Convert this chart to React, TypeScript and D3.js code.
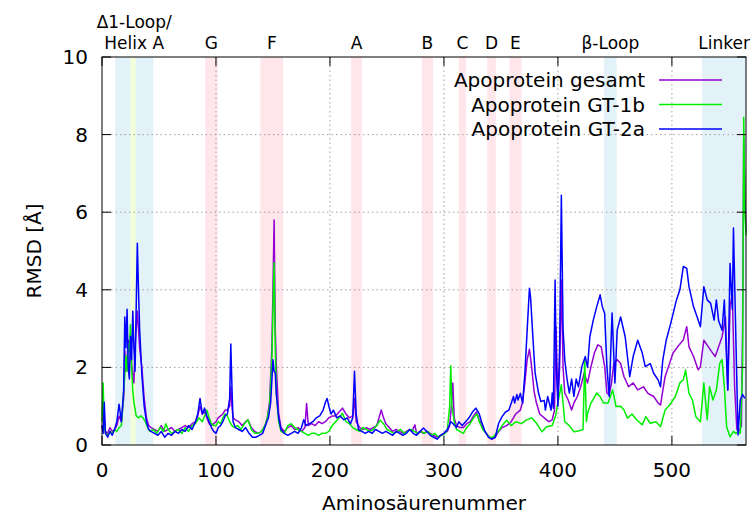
import * as d3 from 'd3'

// residue number, RMSD [Å]
const gesamt: [number, number][] = [
  [0,0.5],[1,0.4],[2,0.7],[3,0.35],[5,0.3],[7,0.45],[9,0.35],[11,0.4],[13,0.5],[15,0.75],[17,0.6],[19,1.2],[20,2.45],[21,1.9],[22,2.2],[23,2.7],[24,2.4],[25,2.6],[26,2.1],[27,1.8],[28,1.6],[29,2.5],[30,3.0],[31,3.45],[32,3.0],[33,2.5],[35,2.0],[37,1.2],[39,0.7],[41,0.5],[43,0.45],[46,0.4],[49,0.35],[52,0.5],[55,0.35],[58,0.4],[61,0.45],[64,0.35],[67,0.4],[70,0.45],[73,0.5],[76,0.45],[79,0.55],[82,0.6],[84,0.75],[86,1.0],[88,0.8],[90,0.85],[92,0.7],[94,0.55],[96,0.5],[98,0.55],[100,0.6],[102,0.7],[104,0.75],[106,0.8],[108,0.9],[110,0.9],[112,1.0],[113,1.5],[114,1.0],[115,0.7],[117,0.65],[120,0.6],[123,0.5],[126,0.6],[128,0.65],[131,0.45],[134,0.35],[137,0.3],[140,0.35],[143,0.5],[145,0.7],[147,1.1],[149,2.5],[150,4.0],[151,5.8],[152,3.0],[153,2.0],[155,0.8],[157,0.45],[160,0.35],[163,0.45],[166,0.5],[169,0.4],[172,0.45],[175,0.35],[178,0.45],[179.5,1.07],[181,0.5],[184,0.55],[187,0.5],[190,0.6],[193,0.55],[196,0.6],[199,0.7],[202,0.75],[205,0.75],[208,0.85],[211,0.95],[214,0.8],[217,0.7],[220,0.75],[221.5,1.2],[223,0.6],[226,0.45],[229,0.4],[232,0.45],[235,0.4],[238,0.45],[241,0.5],[243,0.7],[245,0.9],[247,0.7],[249,0.55],[252,0.45],[255,0.35],[258,0.4],[261,0.35],[264,0.3],[267,0.35],[270,0.4],[272,0.35],[274.5,0.52],[276,0.3],[279,0.35],[282,0.3],[285,0.35],[288,0.3],[291,0.25],[294,0.2],[297,0.25],[300,0.3],[303,0.35],[305,0.5],[306.5,1.0],[307.8,1.6],[309,0.7],[311,0.5],[314,0.45],[317,0.45],[320,0.55],[323,0.6],[326,0.75],[328.5,0.85],[331,0.65],[334,0.45],[337,0.3],[340,0.2],[342,0.15],[345,0.2],[348,0.35],[351,0.45],[355,0.5],[359,0.6],[363,0.8],[367,0.9],[369,1.1],[371,1.6],[373,2.2],[375,2.47],[377,2.0],[379,1.4],[381,1.1],[384,0.8],[388,0.7],[392,0.6],[395,0.65],[397,0.9],[398.3,3.05],[400,1.2],[401.5,2.0],[403,4.25],[404.5,2.0],[406,1.34],[409,1.16],[412,0.9],[414,1.08],[417,1.25],[420,1.5],[423,1.85],[426,1.6],[429,2.02],[432,2.37],[435,2.58],[438,2.53],[441,2.02],[443,1.34],[445,1.3],[447,1.6],[449,2.1],[452,2.2],[455,2.1],[458,1.76],[462,1.5],[466,1.6],[470,1.42],[475,1.5],[479,1.33],[484,1.25],[488,1.08],[490,1.03],[492,1.4],[494,1.76],[497,2.02],[501,2.37],[505,2.53],[510,2.71],[513,3.05],[515,2.53],[519,2.28],[523,1.94],[525,2.02],[528,2.7],[532,2.53],[535,2.4],[538,2.28],[541,2.53],[544,2.79],[547,3.3],[549,1.42],[551,3.56],[553,3.9],[555,1.5],[557,0.4],[559,0.35],[561,0.5],[562,3.0],[563,7.9],[564,6.5],[565,5.5],
]

const gt1b: [number, number][] = [
  [0,0.6],[1,1.6],[2,0.5],[3,0.3],[5,0.25],[7,0.35],[9,0.3],[11,0.4],[13,0.35],[15,0.45],[17,0.5],[18,0.9],[19,1.4],[20,1.8],[21,2.3],[22,1.9],[23,2.6],[24,2.4],[25,3.1],[26,2.0],[27,1.4],[28,1.1],[30,0.75],[32,0.7],[34,0.75],[36,0.7],[38,0.6],[40,0.45],[42,0.35],[45,0.4],[48,0.3],[51,0.45],[54,0.35],[56,0.55],[58,0.4],[61,0.3],[64,0.35],[67,0.4],[70,0.3],[73,0.45],[76,0.35],[79,0.5],[82,0.55],[85,0.7],[88,0.6],[90,0.75],[92,0.9],[94,0.7],[96,0.55],[98,0.5],[100,0.5],[102,0.6],[104,0.55],[106,0.7],[108,0.8],[110,0.75],[112,0.6],[114,0.5],[116,0.45],[119,0.5],[122,0.4],[125,0.55],[128,0.65],[131,0.4],[134,0.3],[137,0.3],[140,0.35],[143,0.5],[145,0.7],[147,1.0],[149,2.2],[150,3.5],[151,4.7],[152,2.5],[153,1.3],[155,0.6],[157,0.35],[160,0.3],[163,0.5],[166,0.55],[169,0.45],[172,0.4],[175,0.35],[178,0.3],[181,0.25],[184,0.3],[187,0.3],[190,0.25],[193,0.3],[196,0.3],[199,0.35],[202,0.5],[205,0.6],[208,0.7],[211,0.82],[214,0.6],[217,0.55],[220,0.45],[223,0.4],[226,0.35],[229,0.45],[232,0.4],[235,0.35],[238,0.4],[241,0.5],[244,0.64],[247,0.55],[250,0.4],[253,0.35],[256,0.3],[259,0.35],[262,0.4],[265,0.3],[268,0.35],[271,0.4],[274,0.35],[277,0.3],[280,0.35],[283,0.3],[286,0.35],[289,0.25],[292,0.3],[295,0.2],[298,0.25],[301,0.3],[303,0.4],[305,1.0],[306,2.04],[307,1.0],[309,0.6],[311,0.4],[314,0.35],[317,0.3],[320,0.45],[323,0.55],[326,0.7],[329,0.8],[331,0.6],[334,0.4],[337,0.3],[340,0.2],[343,0.2],[346,0.3],[349,0.4],[351,0.5],[355,0.64],[359,0.5],[363,0.6],[368,0.55],[372,0.64],[377,0.7],[381,0.57],[386,0.34],[390,0.47],[395,0.5],[398,0.75],[400,1.1],[403,1.55],[406,0.6],[410,0.5],[414,0.34],[419,0.37],[422,0.4],[423.5,2.2],[425,0.6],[426,0.82],[429,1.08],[434,1.34],[437,1.25],[440,1.08],[444,1.08],[448,1.42],[451,0.99],[455,1.0],[458,0.9],[461,0.69],[465,0.8],[469,0.65],[474,0.52],[477,0.73],[481,0.56],[486,0.6],[490,0.47],[494,0.9],[498,1.03],[503,1.25],[507,1.6],[510,1.68],[512,1.93],[515,1.33],[518,1.16],[521,0.73],[525,0.6],[528,1.6],[531,0.65],[533,1.5],[536,1.16],[539,1.42],[542,2.11],[544,2.2],[546,1.5],[548,0.47],[551,0.21],[554,0.35],[556,0.3],[558,0.35],[560,0.3],[562,2.0],[563,8.45],[564,6.0],[565,5.4],
]

const gt2a: [number, number][] = [
  [0,0.5],[1,0.3],[2,1.1],[3,0.3],[5,0.2],[7,0.35],[9,0.25],[11,0.4],[13,0.6],[15,1.05],[17,0.6],[19,1.4],[20,3.3],[21,2.5],[22,3.5],[23,2.0],[24,1.7],[25,2.8],[26,2.2],[27,3.45],[28,2.5],[29,1.9],[31,5.2],[32,4.0],[33,3.0],[35,1.8],[37,1.0],[39,0.6],[41,0.4],[43,0.35],[46,0.3],[49,0.25],[52,0.35],[55,0.2],[58,0.3],[61,0.25],[64,0.35],[67,0.3],[70,0.4],[73,0.35],[76,0.5],[79,0.4],[82,0.6],[84,0.8],[86,1.2],[88,0.8],[90,0.95],[92,0.75],[94,0.6],[96,0.45],[98,0.35],[100,0.3],[102,0.45],[104,0.5],[106,0.6],[108,0.75],[110,0.8],[112,1.2],[113,2.6],[114,1.5],[115,0.6],[117,0.45],[120,0.4],[123,0.35],[126,0.45],[129,0.3],[132,0.2],[135,0.2],[138,0.25],[141,0.3],[144,0.55],[146,0.7],[148,1.1],[150,2.2],[151,1.9],[152,1.85],[153,1.3],[155,0.7],[157,0.4],[160,0.3],[163,0.25],[166,0.3],[169,0.35],[172,0.3],[175,0.45],[177,0.65],[179,0.5],[182,0.55],[185,0.6],[188,0.7],[191,0.75],[194,0.9],[196,1.1],[197.5,1.2],[199,1.0],[201,0.8],[203,0.9],[206,0.7],[209,0.75],[212,0.65],[215,0.7],[218,0.55],[220,0.7],[221.5,1.9],[223,0.8],[225,0.4],[228,0.35],[231,0.3],[234,0.35],[237,0.3],[240,0.4],[243,0.35],[246,0.3],[249,0.35],[252,0.3],[255,0.25],[258,0.35],[261,0.3],[264,0.25],[267,0.3],[270,0.4],[273,0.3],[276,0.25],[279,0.35],[282,0.44],[285,0.35],[288,0.25],[291,0.2],[294,0.15],[297,0.25],[300,0.3],[303,0.4],[306,0.6],[308,0.55],[311,0.45],[313,0.6],[316,0.5],[319,0.6],[322,0.7],[325,0.85],[328,0.95],[331,0.8],[333,0.6],[336,0.35],[339,0.2],[342,0.15],[345,0.2],[348,0.56],[351,0.73],[354,0.85],[357,0.9],[361,1.25],[362,1.08],[364,1.3],[365,1.16],[367,1.33],[369,1.08],[371,1.85],[373,2.96],[375,4.04],[376,3.8],[378,2.79],[380,1.85],[383,1.34],[385,1.12],[388,1.15],[389,0.9],[391,1.25],[394,0.9],[395,1.34],[396,0.95],[397.5,4.25],[398.6,2.02],[400,1.0],[401.5,2.5],[403,6.44],[404.5,3.0],[406,2.19],[408,1.7],[410,1.34],[412,1.7],[414,1.25],[416,1.7],[418,1.5],[421,2.02],[424,2.28],[426,2.0],[428,2.79],[431,3.22],[434,3.56],[437,3.87],[439,3.56],[441,3.39],[443,2.0],[445,1.25],[447.5,3.4],[450,1.6],[452,2.96],[455,3.3],[459,2.79],[463,1.76],[466,2.28],[470,2.7],[474,2.37],[476.6,2.02],[481,2.1],[484,1.85],[488,1.67],[490,1.5],[492,2.19],[495,2.7],[499,3.14],[504,3.74],[507,4.0],[510,4.6],[513,4.55],[515,4.08],[519,3.56],[522,3.31],[525,3.05],[528,4.08],[531,3.74],[534,3.65],[537,3.22],[539,3.74],[541,3.2],[544,2.96],[546,3.74],[549,1.42],[551,4.68],[553,3.5],[554,5.59],[556,2.89],[558,0.26],[560,1.16],[562,1.3],[564,1.2],
]

const seriesNames = ['Apoprotein gesamt', 'Apoprotein GT-1b', 'Apoprotein GT-2a']
const seriesData = [gesamt, gt1b, gt2a]
const seriesColors = ['#9400d3', '#00ee00', '#0000ff']

// highlighted structure regions: [from, to, label lines, kind]
const regions: [number, number, string[], string][] = [
  [11.5, 45, ['Δ1-Loop/', 'Helix A'], 'loop'],
  [25, 29.5, [], 'mark'],
  [90.5, 101.5, ['G'], 'helix'],
  [139, 159, ['F'], 'helix'],
  [218.5, 228, ['A'], 'helix'],
  [280.5, 290.5, ['B'], 'helix'],
  [313, 319.5, ['C'], 'helix'],
  [338, 345.5, ['D'], 'helix'],
  [357.5, 368, ['E'], 'helix'],
  [440.5, 451.5, ['β-Loop'], 'loop'],
  [526.5, 566, ['Linker'], 'loop'],
]
const regionFill: Record<string, string> = { loop: '#e3f2f8', helix: '#ffe6ea', mark: '#f3ffd8' }

const xTicks = [0, 100, 200, 300, 400, 500]
const yTicks = [0, 2, 4, 6, 8, 10]

export default function App() {
  const width = 752
  const height = 515
  const margin = { top: 57, right: 6, bottom: 70, left: 102 }
  const innerW = width - margin.left - margin.right
  const innerH = height - margin.top - margin.bottom
  const font = 'DejaVu Sans, sans-serif'

  const x = d3.scaleLinear().domain([0, 565]).range([0, innerW])
  const y = d3.scaleLinear().domain([0, 10]).range([innerH, 0])
  const line = d3.line<[number, number]>().x(d => x(d[0])).y(d => y(d[1]))

  return (
    <svg width={width} height={height} style={{ position: 'absolute', left: 0, top: 0 }} fontFamily={font}>
      <g transform={`translate(${margin.left},${margin.top})`}>
        {/* shaded regions */}
        {regions.map((r, i) => (
          <rect key={i} x={x(r[0])} y={0} width={Math.min(x(r[1]), innerW) - x(r[0])} height={innerH} fill={regionFill[r[3]]} />
        ))}
        {/* grid */}
        {xTicks.filter(t => t > 0).map(t => (
          <line key={'gx' + t} x1={x(t)} x2={x(t)} y1={0} y2={innerH} stroke="#a0a0a0" strokeDasharray="1.5 3" />
        ))}
        {yTicks.filter(t => t > 0 && t < 10).map(t => (
          <line key={'gy' + t} x1={0} x2={innerW} y1={y(t)} y2={y(t)} stroke="#a0a0a0" strokeDasharray="1.5 3" />
        ))}
        {/* data */}
        {seriesData.map((s, i) => (
          <path key={i} d={line(s) || ''} fill="none" stroke={seriesColors[i]} strokeWidth={1.5} strokeLinejoin="round" />
        ))}
        {/* border and ticks */}
        <rect x={0} y={0} width={innerW} height={innerH} fill="none" stroke="#000" strokeWidth={1} />
        {xTicks.map(t => (
          <g key={'tx' + t}>
            <line x1={x(t)} x2={x(t)} y1={innerH} y2={innerH - 9} stroke="#000" />
            <line x1={x(t)} x2={x(t)} y1={0} y2={9} stroke="#000" />
            <text x={x(t)} y={innerH + 25} textAnchor="middle" dominantBaseline="central" fontSize={20}>{t}</text>
          </g>
        ))}
        {yTicks.map(t => (
          <g key={'ty' + t}>
            <line x1={0} x2={9} y1={y(t)} y2={y(t)} stroke="#000" />
            <line x1={innerW} x2={innerW - 9} y1={y(t)} y2={y(t)} stroke="#000" />
            <text x={-14} y={y(t)} textAnchor="end" dominantBaseline="central" fontSize={20}>{t}</text>
          </g>
        ))}
        {/* region labels */}
        {regions.filter(r => r[2].length > 0).map((r, i) => {
          const cx = x((r[0] + Math.min(r[1], 565)) / 2)
          return r[2].map((t, j) => (
            <text key={i + '-' + j} x={cx} y={-14 - (r[2].length - 1 - j) * 21} textAnchor="middle" dominantBaseline="central" fontSize={17}>{t}</text>
          ))
        })}
        {/* legend */}
        {seriesNames.map((n, i) => (
          <g key={'lg' + i} transform={`translate(0,${23 + i * 24.5})`}>
            <text x={543} y={0} textAnchor="end" dominantBaseline="central" fontSize={20}>{n}</text>
            <line x1={557} x2={620} y1={0} y2={0} stroke={seriesColors[i]} strokeWidth={1.5} />
          </g>
        ))}
        {/* axis titles */}
        <text x={innerW / 2} y={innerH + 58} textAnchor="middle" dominantBaseline="central" fontSize={20}>Aminosäurenummer</text>
        <text transform={`translate(${-68},${innerH / 2}) rotate(-90)`} textAnchor="middle" dominantBaseline="central" fontSize={20}>RMSD [Å]</text>
      </g>
    </svg>
  )
}
